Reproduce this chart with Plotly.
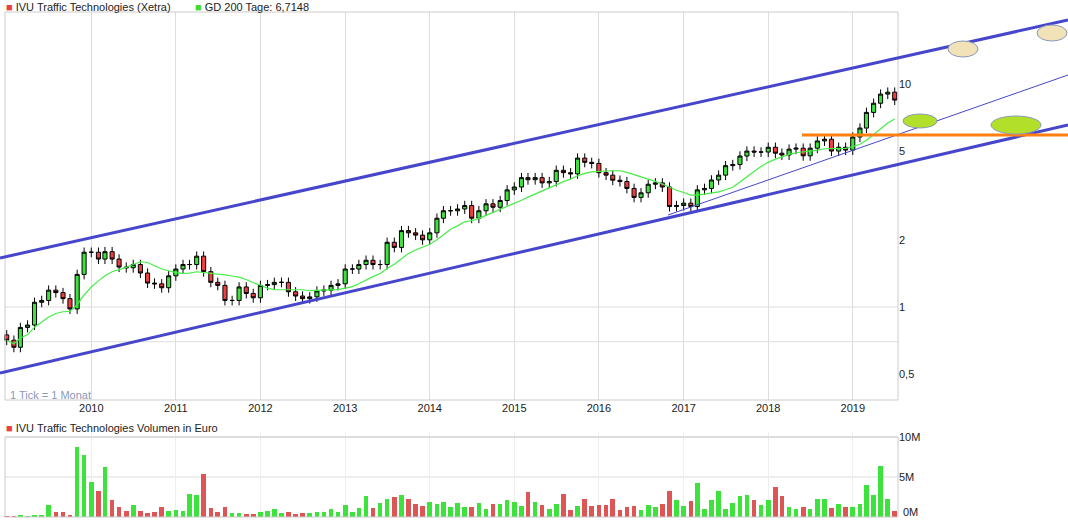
import plotly.graph_objects as go
import pandas as pd
import math

months = pd.date_range("2009-01-01", periods=127, freq="MS")
closes = [0.71,0.66,0.81,0.83,1.05,1.07,1.19,1.16,1.09,0.98,1.40,1.76,
          1.76,1.64,1.77,1.64,1.51,1.50,1.55,1.42,1.28,1.27,1.22,1.38,
          1.48,1.55,1.55,1.69,1.44,1.29,1.25,1.07,1.07,1.23,1.15,1.10,
          1.25,1.26,1.29,1.29,1.17,1.12,1.09,1.11,1.18,1.19,1.25,1.27,
          1.48,1.48,1.55,1.62,1.55,1.55,1.95,1.85,2.2,2.15,2.1,2.0,
          2.15,2.5,2.7,2.7,2.75,2.85,2.5,2.7,2.9,2.8,3.0,3.35,
          3.45,3.8,3.72,3.8,3.6,3.65,4.1,4.0,3.95,4.65,4.45,4.4,
          4.0,3.9,3.7,3.65,3.4,3.1,3.25,3.55,3.6,3.45,2.82,2.85,
          2.92,2.82,3.35,3.4,3.71,3.9,4.3,4.35,4.75,5.0,4.95,4.95,
          5.2,4.89,4.8,5.1,5.15,4.76,5.15,5.55,5.65,5.0,5.2,5.05,
          5.78,6.34,7.45,8.19,9.0,9.18,8.46]
first_open = 0.75
volumes = [0.1,0.1,0.3,0.1,0.2,0.2,1.5,0.6,0.6,0.2,
           8.7,7.8,4.4,3.2,6.3,2.1,1.2,0.7,1.5,0.7,
           0.5,0.6,1.3,0.8,0.9,0.7,2.9,2.8,5.4,1.1,
           0.6,1.2,0.5,0.5,0.4,0.4,0.6,0.7,1.0,0.5,
           0.6,0.4,0.5,0.5,0.6,0.6,1.0,0.6,1.5,0.6,
           1.1,2.6,1.1,1.7,2.3,2.5,2.8,2.2,1.6,1.4,
           1.9,1.6,1.9,1.2,1.7,1.3,1.2,1.7,1.0,1.6,
           1.6,2.1,1.9,1.4,3.1,1.9,1.5,1.0,1.6,2.9,
           0.9,1.4,2.3,1.4,1.5,1.5,2.3,0.9,1.2,1.4,
           0.9,1.5,1.2,1.6,3.2,2.1,1.4,2.0,4.3,1.0,
           2.1,3.3,1.0,1.7,2.6,2.7,2.1,1.5,2.1,3.7,
           2.6,1.2,1.0,1.2,1.0,2.3,2.2,1.1,1.6,1.2,
           1.3,1.6,4.0,2.8,6.4,2.2,0.8]
price_ticks = [0.5, 1, 2, 5, 10]
price_tick_text = ["0,5", "1", "2", "5", "10"]
vol_ticks = [0, 5, 10]
vol_tick_text = ["", "5M", "10M"]
years = list(range(2010, 2020))

opens = [first_open] + closes[:-1]
highs = [max(o, c) * 1.05 for o, c in zip(opens, closes)]
lows = [min(o, c) * 0.95 for o, c in zip(opens, closes)]
ma = pd.Series(closes).rolling(10, min_periods=1).mean()

GREEN = "#3de23d"; RED = "#ee4040"
W, H = 1068, 520
fig = go.Figure()
fig.add_trace(go.Candlestick(x=months, open=opens, high=highs, low=lows, close=closes,
    increasing=dict(fillcolor=GREEN, line=dict(color="black", width=1)),
    decreasing=dict(fillcolor=RED, line=dict(color="black", width=1)),
    whiskerwidth=0, showlegend=False, xaxis="x", yaxis="y"))
fig.add_trace(go.Scatter(x=months, y=ma, mode="lines", line=dict(color="#44ee44", width=1.2),
    showlegend=False, xaxis="x", yaxis="y"))
vcol = [GREEN if c >= o else "#dd5555" for o, c in zip(opens, closes)]
fig.add_trace(go.Bar(x=months, y=volumes, marker=dict(color=vcol, line=dict(width=0)),
    width=1000*3600*24*20, showlegend=False, xaxis="x2", yaxis="y2"))

def px(x): return x / W
def py(y): return 1 - y / H

shapes = []
for v in price_ticks:
    shapes.append(dict(type="line", xref="paper", yref="y", x0=px(5), x1=px(898),
        y0=math.log10(v), y1=math.log10(v), line=dict(color="#dddddd", width=1), layer="below"))
for v in vol_ticks:
    shapes.append(dict(type="line", xref="paper", yref="y2", x0=px(5), x1=px(898),
        y0=v, y1=v, line=dict(color="#dddddd", width=1), layer="below"))
shapes.append(dict(type="rect", xref="paper", yref="paper", x0=px(5), x1=px(898), y0=py(400), y1=py(12),
    line=dict(color="#cccccc", width=1)))
shapes.append(dict(type="rect", xref="paper", yref="paper", x0=px(5), x1=px(898), y0=py(517), y1=py(437),
    line=dict(color="#cccccc", width=1)))
for (x0, y0, x1, y1, w) in [(0, 258, 1068, 20, 3), (0, 373, 1068, 125, 3), (668, 215, 1068, 75, 1)]:
    shapes.append(dict(type="line", xref="paper", yref="paper", x0=px(x0), y0=py(y0), x1=px(x1), y1=py(y1),
        line=dict(color="#4646cc", width=w)))
shapes.append(dict(type="line", xref="paper", yref="paper", x0=px(802), y0=py(135), x1=px(1068), y1=py(135),
    line=dict(color="#ff7f10", width=3)))
for (x0, y0, x1, y1, fc) in [(948, 41, 978, 57, "#f2e2b8"), (1037, 25, 1067, 41, "#f2e2b8"),
                             (903, 114, 937, 128, "#b2e02a"), (991, 116, 1041, 134, "#b2e02a")]:
    shapes.append(dict(type="circle", xref="paper", yref="paper", x0=px(x0), y0=py(y1), x1=px(x1), y1=py(y0),
        fillcolor=fc, line=dict(color="#8899bb", width=1)))

font = dict(family="Liberation Sans, Arial", size=11, color="#222222")
ann = [
    dict(x=px(4), y=py(7), yanchor="middle", text="<span style='color:#ee4040'>■</span> IVU Traffic Technologies (Xetra)"),
    dict(x=px(193), y=py(7), yanchor="middle", text="<span style='color:#44dd22'>■</span> GD 200 Tage: 6,7148"),
    dict(x=px(4), y=py(428), yanchor="middle", text="<span style='color:#ee4040'>■</span> IVU Traffic Technologies Volumen in Euro"),
    dict(x=px(8), y=py(395), yanchor="middle", text="<span style='color:#8899bb'>1 Tick = 1 Monat</span>"),
    dict(x=px(901), y=0, yanchor="bottom", text="0M"),
]
for a in ann:
    a.update(xref="paper", yref="paper", xanchor="left", showarrow=False, font=font)

xr = [pd.Timestamp("2008-12-03"), pd.Timestamp("2021-07-18")]
tickvals = [pd.Timestamp(f"{y}-01-01") for y in years]
fig.update_layout(
    width=W, height=H, margin=dict(l=0, r=0, t=0, b=0), plot_bgcolor="white", paper_bgcolor="white",
    font=font, shapes=shapes, annotations=ann, xaxis_rangeslider_visible=False, bargap=0, boxgap=0.1,
    xaxis=dict(domain=[0, 1], range=xr, anchor="y", tickvals=tickvals, ticktext=[str(y) for y in years],
               showgrid=True, gridcolor="#dddddd", ticks="", zeroline=False, rangeslider=dict(visible=False)),
    yaxis=dict(domain=[py(400), py(12)], type="log", range=[math.log10(0.383), math.log10(21.0)],
               anchor="free", position=px(898), side="right", tickvals=price_ticks, ticktext=price_tick_text,
               showgrid=False, zeroline=False, ticks=""),
    xaxis2=dict(domain=[0, 1], range=xr, anchor="y2", matches="x", tickvals=tickvals, showticklabels=False,
                showgrid=True, gridcolor="#eeeeee", ticks=""),
    yaxis2=dict(domain=[py(517), py(432)], range=[0, 10.625], anchor="free", position=px(898), side="right",
                tickvals=vol_ticks, ticktext=vol_tick_text, showgrid=False, zeroline=False, ticks=""),
)
fig.write_html("out.html", config={"displayModeBar": False},
               post_script="document.body.style.margin='0';document.body.style.overflow='hidden';")
